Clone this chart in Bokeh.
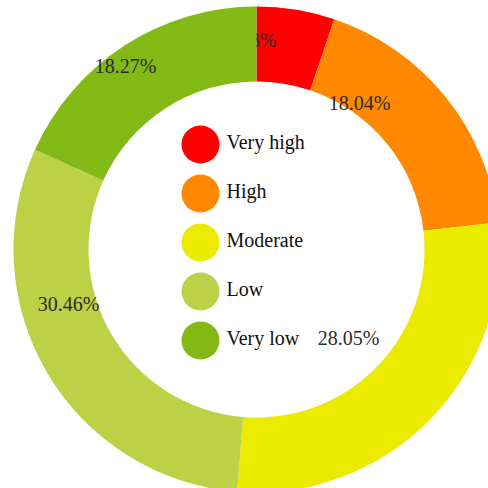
import math

from bokeh.plotting import figure
from bokeh.models import Range1d
from bokeh.core.properties import value
from bokeh.embed import file_html
from bokeh.resources import INLINE

# Share of each risk class (percent)
categories = ["Very high", "High", "Moderate", "Low", "Very low"]
shares = [5.18, 18.04, 28.05, 30.46, 18.27]
colors = ["#FF0000", "#FF8800", "#EBEB00", "#BDD147", "#82B914"]
labels = ["5.18%", "18.04%", "28.05%", "30.46%", "18.27%"]

# Where each percentage label sits (pixel coordinates, y measured from the top)
label_pos = [(250, 39), (359, 102), (348, 337), (68, 303), (125, 65)]

W = H = 488
CX, CY = 256, 249          # ring centre, pixels from top-left
R_OUT, R_IN = 243, 168
FONT = value("Liberation Serif")

p = figure(width=W, height=H, output_backend="svg", toolbar_location=None,
           x_range=Range1d(0, W), y_range=Range1d(0, H),
           x_axis_location=None, y_axis_location=None,
           min_border=0, background_fill_color="white",
           border_fill_color="white")
p.grid.visible = False
p.outline_line_color = None


def fy(y):
    """Convert a top-based pixel row to the plot's upward y coordinate."""
    return H - y


total = sum(shares)
cum = 0.0
for share, color, text, (lx, ly) in zip(shares, colors, labels, label_pos):
    start = math.pi / 2 - 2 * math.pi * cum / total
    cum += share
    end = math.pi / 2 - 2 * math.pi * cum / total
    p.annular_wedge(x=CX, y=fy(CY), inner_radius=R_IN, outer_radius=R_OUT,
                    start_angle=start, end_angle=end, direction="clock",
                    fill_color=color, line_color=None)
    p.text(x=[lx], y=[fy(ly)], text=[text], text_font=FONT,
           text_font_size="20px", text_color="#2b2b2b",
           text_align="center", text_baseline="middle")

# Legend in the middle of the ring
LEG_X, LEG_TOP, LEG_STEP, LEG_R = 200, 144, 49, 19
leg_y = [LEG_TOP + i * LEG_STEP for i in range(len(categories))]
p.circle(x=[LEG_X] * len(categories), y=[fy(v) for v in leg_y],
         radius=LEG_R, fill_color=colors, line_color=None)
p.text(x=[LEG_X + 26] * len(categories), y=[fy(v - 3) for v in leg_y],
       text=categories, text_font=FONT, text_font_size="20px",
       text_color="#111111", text_align="left", text_baseline="middle")

open("out.html", "w").write(file_html(p, INLINE))
